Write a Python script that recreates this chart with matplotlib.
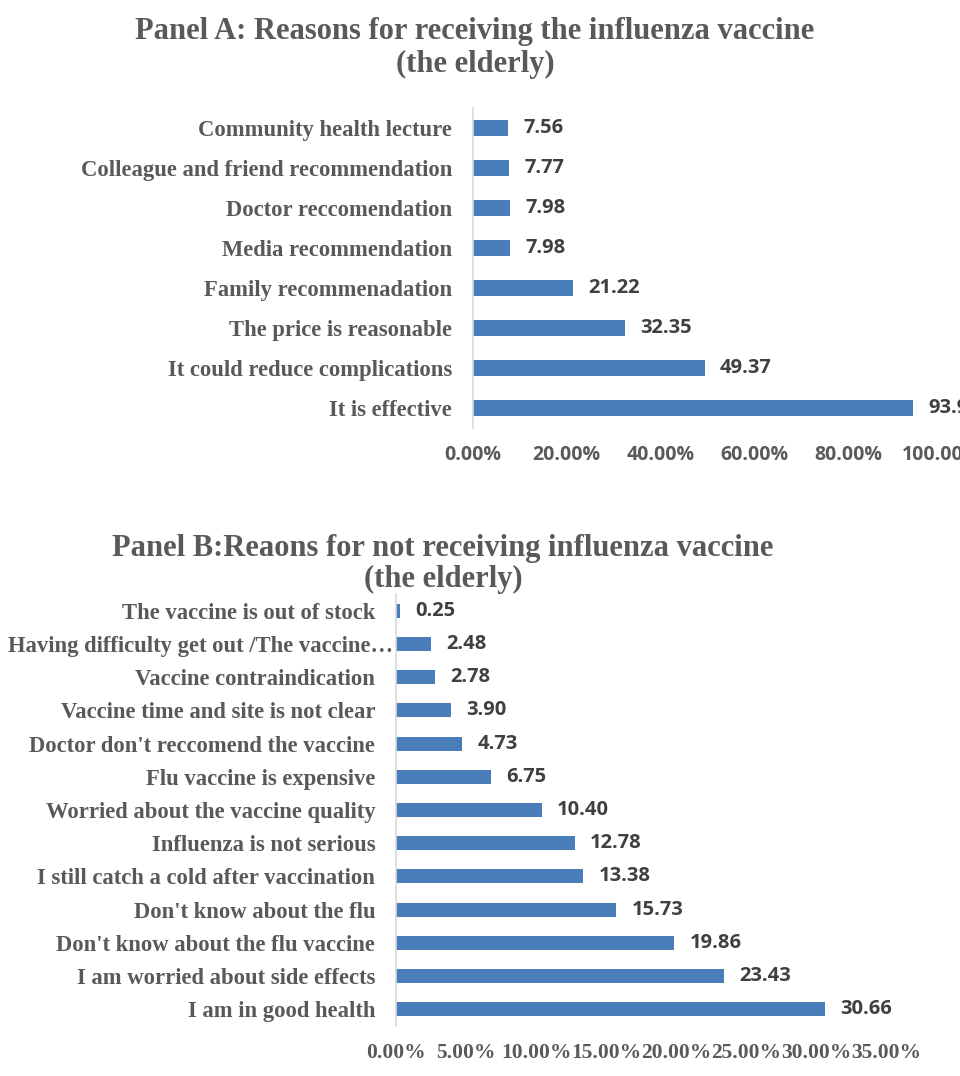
import matplotlib
matplotlib.use("Agg")
import matplotlib.pyplot as plt
import matplotlib.transforms as mtransforms
from matplotlib.ticker import FuncFormatter

cats_a = ["Community health lecture", "Colleague and friend recommendation",
          "Doctor reccomendation", "Media recommendation", "Family recommenadation",
          "The price is reasonable", "It could reduce complications", "It is effective"]
vals_a = [7.56, 7.77, 7.98, 7.98, 21.22, 32.35, 49.37, 93.91]
ticks_a = [0, 20, 40, 60, 80, 100]

cats_b = ["The vaccine is out of stock", "Having difficulty get out /The vaccine…",
          "Vaccine contraindication", "Vaccine time and site is not clear",
          "Doctor don't reccomend the vaccine", "Flu vaccine is expensive",
          "Worried about the vaccine quality", "Influenza is not serious",
          "I still catch a cold after vaccination", "Don't know about the flu",
          "Don't know about the flu vaccine", "I am worried about side effects",
          "I am in good health"]
vals_b = [0.25, 2.48, 2.78, 3.90, 4.73, 6.75, 10.40, 12.78, 13.38, 15.73, 19.86, 23.43, 30.66]
ticks_b = [0, 5, 10, 15, 20, 25, 30, 35]

W, H = 960, 1076
BAR = "#4A7EBB"
GRAY = "#595959"
DARK = "#404040"
SERIF = "Liberation Serif"
SANS = "Open Sans"

fig = plt.figure(figsize=(W / 100, H / 100), dpi=100)


def px_axes(left, top, right, bottom):
    return fig.add_axes([left / W, 1 - bottom / H, (right - left) / W, (bottom - top) / H])


def style(ax, cats, vals, ticks, xmax, bar_h, tick_font, tick_size, xpad):
    n = len(cats)
    y = list(range(n))
    ax.barh(y, vals, height=bar_h, color=BAR, clip_on=False)
    ax.set_ylim(n - 0.5, -0.5)
    ax.set_xlim(0, xmax)
    ax.set_yticks(y)
    ax.set_yticklabels(cats, family=SERIF, fontweight="bold", fontsize=16.3, color=GRAY)
    ax.set_xticks(ticks)
    ax.xaxis.set_major_formatter(FuncFormatter(lambda v, p: f"{v:.2f}%"))
    for lab in ax.get_xticklabels():
        lab.set_family(tick_font)
        lab.set_fontweight("bold")
        lab.set_fontsize(tick_size)
        lab.set_color(GRAY)
    ax.tick_params(axis="both", length=0)
    ax.tick_params(axis="y", pad=15)
    ax.tick_params(axis="x", pad=xpad)
    for s in ["top", "right", "bottom"]:
        ax.spines[s].set_visible(False)
    ax.spines["left"].set_color("#D9D9D9")
    ax.spines["left"].set_linewidth(1.2)
    ax.patch.set_alpha(0)
    for yi, v in zip(y, vals):
        ax.annotate(f"{v:.2f}", (v, yi), xytext=(11, 0), textcoords="offset points",
                    va="center", ha="left", family=SANS, fontweight="bold",
                    fontsize=14.5, color=DARK, annotation_clip=False)


axA = px_axes(473, 108, 942, 428)
style(axA, cats_a, vals_a, ticks_a, 100, 0.38, SANS, 14, 12)
fig.text(475 / W, 1 - 48 / H, "Panel A: Reasons for receiving the influenza vaccine\n(the elderly)",
         ha="center", va="center", family=SERIF, fontweight="bold", fontsize=22,
         color=GRAY, linespacing=1.2)

axB = px_axes(396, 594, 886, 1026)
style(axB, cats_b, vals_b, ticks_b, 35, 0.42, SERIF, 15.5, 12)
# the truncated label in the reference overlaps the axis line slightly
lab = axB.get_yticklabels()[1]
lab.set_transform(lab.get_transform() + mtransforms.ScaledTranslation(18 / 100, 0, fig.dpi_scale_trans))
fig.text(443 / W, 1 - 564 / H, "Panel B:Reaons for not receiving influenza vaccine\n(the elderly)",
         ha="center", va="center", family=SERIF, fontweight="bold", fontsize=22,
         color=GRAY, linespacing=1.05)

fig.savefig("out.png", dpi=100)
